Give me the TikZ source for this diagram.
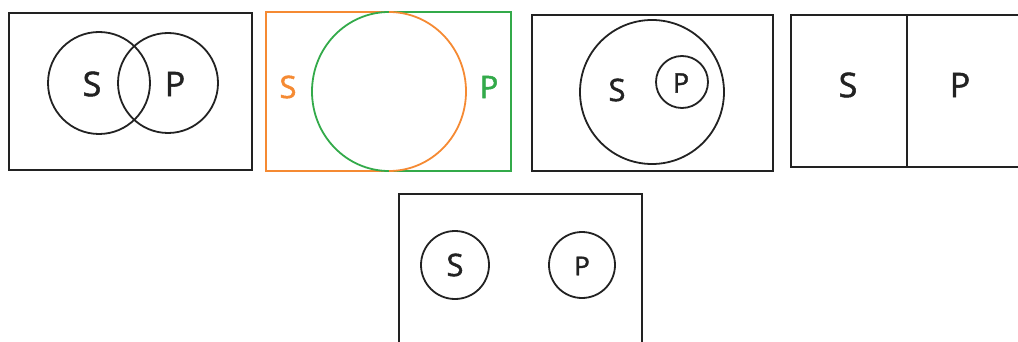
\documentclass[tikz,border=0pt]{standalone}
\usepackage{fontspec}
\setmainfont{Open Sans}
\newfontfamily\lblfont{Open Sans}[FakeBold=1.5]
\definecolor{ink}{HTML}{222222}
\definecolor{sorange}{HTML}{F58A33}
\definecolor{pgreen}{HTML}{33AA4A}
\begin{document}
\begin{tikzpicture}[x=1pt,y=-1pt,
  frame/.style={draw=ink,line width=2pt},
  ring/.style={circle,draw=ink,line width=1.8pt,inner sep=0pt},
  lbl/.style={font=\lblfont\fontsize{34}{36}\selectfont,text=ink,inner sep=0pt}]
\useasboundingbox (0,0) rectangle (1018,342);
% panel 1
\draw[frame] (9,13) rectangle (252,170);
\node[ring,minimum size=102pt] (c1s) at (99,83) {};
\node[ring,minimum size=100pt] (c1p) at (168,83) {};
\node[lbl] (t1s) at (92,84) {S};
\node[lbl] (t1p) at (175,84) {P};
% panel 2
\draw[sorange,line width=2pt] (388,12) -- (266,12) -- (266,171) -- (388,171);
\draw[pgreen,line width=2pt] (388,12) -- (511,12) -- (511,171) -- (388,171);
\draw[pgreen,line width=1.8pt] (389,12) arc[start angle=-90,end angle=-270,x radius=77,y radius=79.5];
\draw[sorange,line width=1.8pt] (389,171) arc[start angle=90,end angle=-90,x radius=77,y radius=79.5];
\node[lbl,text=sorange,font=\lblfont\fontsize{31}{33}\selectfont] (t2s) at (288,87) {S};
\node[lbl,text=pgreen,font=\lblfont\fontsize{31}{33}\selectfont] (t2p) at (489,87) {P};
% panel 3
\draw[frame] (532,15) rectangle (773,171);
\node[ring,minimum size=144pt] (c3s) at (652,92) {};
\node[ring,minimum size=52pt] (c3p) at (682,82) {};
\node[lbl,font=\lblfont\fontsize{31}{33}\selectfont] (t3s) at (617,90) {S};
\node[lbl,font=\lblfont\fontsize{27}{29}\selectfont] (t3p) at (681,83) {P};
% panel 4
\draw[frame] (1018,15) -- (791,15) -- (791,167) -- (1018,167);
\draw[frame] (907,15) -- (907,167);
\node[lbl] (t4s) at (848,85) {S};
\node[lbl] (t4p) at (960,85) {P};
% panel 5
\draw[frame] (399,342) -- (399,194) -- (642,194) -- (642,342);
\node[ring,minimum size=68pt] (c5s) at (455,265) {};
\node[ring,minimum size=66pt] (c5p) at (582,265) {};
\node[lbl,font=\lblfont\fontsize{31}{33}\selectfont] (t5s) at (455,265) {S};
\node[lbl,font=\lblfont\fontsize{26}{28}\selectfont] (t5p) at (582,266) {P};
\end{tikzpicture}
\end{document}
